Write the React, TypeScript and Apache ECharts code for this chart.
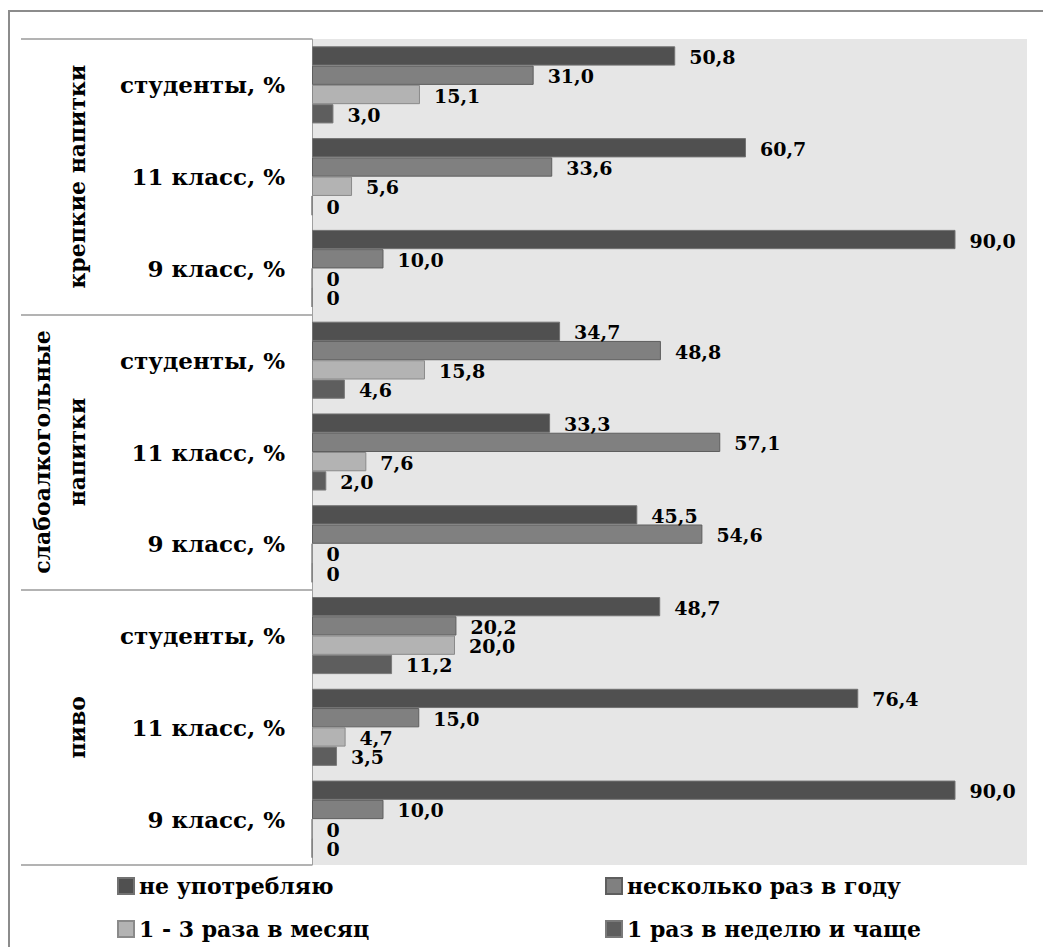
import React, { useEffect, useRef } from "react";
import * as echarts from "echarts";

const categories = [
  "студенты, %", "11 класс, %", "9 класс, %",
  "студенты, %", "11 класс, %", "9 класс, %",
  "студенты, %", "11 класс, %", "9 класс, %",
];
const groups = ["крепкие напитки", "слабоалкогольные\nнапитки", "пиво"];
const seriesNames = ["не употребляю", "несколько раз в году", "1 - 3 раза в месяц", "1 раз в неделю и чаще"];
const neverUse = [50.8, 60.7, 90.0, 34.7, 33.3, 45.5, 48.7, 76.4, 90.0];
const fewTimesYear = [31.0, 33.6, 10.0, 48.8, 57.1, 54.6, 20.2, 15.0, 10.0];
const oneToThreeMonth = [15.1, 5.6, 0, 15.8, 7.6, 0, 20.0, 4.7, 0];
const weeklyOrMore = [3.0, 0, 0, 4.6, 2.0, 0, 11.2, 3.5, 0];
const seriesValues = [neverUse, fewTimesYear, oneToThreeMonth, weeklyOrMore];
const colors = ["#505050", "#808080", "#b3b3b3", "#5e5e5e"];
const borderColors = ["#727272", "#5e5e5e", "#8a8a8a", "#7a7a7a"];

const FONT = "DejaVu Serif";

export default function App() {
  const ref = useRef<HTMLDivElement>(null);
  useEffect(() => {
    if (!ref.current) return;
    const chart = echarts.init(ref.current, undefined, { renderer: "svg" });
    const fmt = (p: any) => (p.value === 0 ? "0" : Number(p.value).toFixed(1).replace(".", ","));
    const legendBase = {
      orient: "vertical",
      top: 875,
      height: 72,
      padding: 0,
      icon: "rect",
      itemWidth: 16,
      itemHeight: 16,
      itemGap: 21,
      textStyle: { fontFamily: FONT, fontWeight: "bold", fontSize: 22, color: "#000" },
    };
    chart.setOption({
      animation: false,
      backgroundColor: "#ffffff",
      graphic: [
        {
          type: "rect",
          silent: true,
          z: -10,
          shape: { x: 9, y: 11, width: 1200, height: 1200 },
          style: { fill: "none", stroke: "#8c8c8c", lineWidth: 2 },
        },
      ],
      grid: {
        left: 312,
        top: 39,
        width: 715,
        height: 826,
        show: true,
        backgroundColor: "#e6e6e6",
        borderWidth: 0,
      },
      legend: [
        { ...legendBase, left: 117, data: [seriesNames[0], seriesNames[2]] },
        { ...legendBase, left: 605, data: [seriesNames[1], seriesNames[3]] },
      ],
      xAxis: {
        type: "value",
        min: 0,
        max: 100,
        show: false,
        splitLine: { show: false },
      },
      yAxis: [
        {
          type: "category",
          data: categories,
          inverse: true,
          axisLine: { show: true, lineStyle: { color: "#a0a0a0", width: 1 } },
          axisTick: { show: false },
          axisLabel: {
            interval: 0,
            margin: 27,
            fontFamily: FONT,
            fontWeight: "bold",
            fontSize: 23,
            color: "#000",
          },
        },
        {
          type: "category",
          data: groups,
          inverse: true,
          position: "left",
          axisLine: { show: false },
          axisTick: { show: true, length: 291, lineStyle: { color: "#9a9a9a", width: 1.5 } },
          axisLabel: {
            interval: 0,
            rotate: 90,
            margin: 218,
            lineHeight: 35,
            fontFamily: FONT,
            fontWeight: "bold",
            fontSize: 22,
            color: "#000",
          },
        },
      ],
      series: seriesValues.map((vals, i) => ({
        name: seriesNames[i],
        type: "bar",
        yAxisIndex: 0,
        data: vals,
        barGap: "0%",
        barCategoryGap: "16%",
        itemStyle: { color: colors[i], borderColor: borderColors[i], borderWidth: 1 },
        label: {
          show: true,
          position: "right",
          distance: 14,
          offset: [0, 1],
          formatter: fmt,
          fontFamily: FONT,
          fontWeight: "bold",
          fontSize: 19,
          color: "#000",
        },
      })),
    });
    return () => chart.dispose();
  }, []);
  return <div ref={ref} style={{ position: "absolute", left: 0, top: 0, width: 1043, height: 947 }} />;
}
